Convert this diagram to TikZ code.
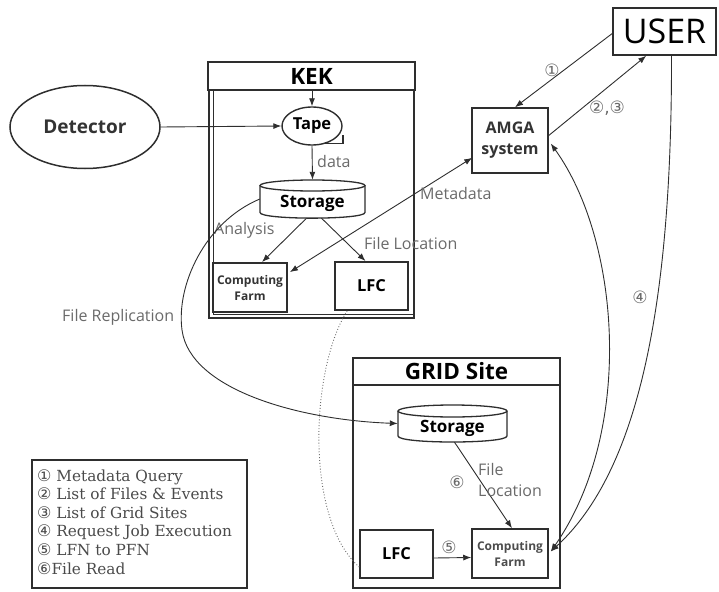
\documentclass[tikz,border=0pt]{standalone}
\usepackage{fontspec}
\setmainfont{Open Sans}
\newfontfamily\circfont{DejaVu Sans}
\newfontfamily\legfont{DejaVu Serif}
\usetikzlibrary{arrows.meta,shapes.geometric,calc}
\newcommand{\setfs}[1]{\fontsize{#1}{#1}\selectfont}
\newcommand{\cn}[1]{{\circfont\fontsize{16}{18.6}\selectfont #1}}
\definecolor{linec}{HTML}{2E2E2E}
\definecolor{lblc}{HTML}{6A6A6A}
\definecolor{legc}{HTML}{4A4A4A}
\tikzset{
  box/.style={draw=linec, line width=1.5pt, inner sep=0pt, align=center},
  ghost/.style={inner sep=0pt, align=center},
  lbl/.style={text=lblc, font=\setfs{16}, inner sep=0pt},
  circlbl/.style={text=lblc, font=\circfont\setfs{17}, inner sep=0pt},
  arr/.style={draw=linec, line width=0.9pt, -{Latex[length=8pt,width=6pt]}},
  darr/.style={draw=linec, line width=0.9pt, {Latex[length=8pt,width=6pt]}-{Latex[length=8pt,width=6pt]}},
  cyl/.style={draw=linec, line width=1.3pt},
}
\begin{document}
\begin{tikzpicture}[x=1pt,y=-1pt]
\useasboundingbox (0,0) rectangle (719,591);

% ---------- Detector ----------
\node[ellipse, draw=linec, line width=1.5pt, minimum width=150pt, minimum height=83pt, inner sep=0pt,
      font=\setfs{19}\bfseries, text=black!80] (det) at (85,127) {Detector};

% ---------- KEK ----------
\node[box, minimum width=207pt, minimum height=28pt, font=\setfs{22.5}\bfseries] (kektitle) at (311.5,76) {KEK};
\node[box, minimum width=205pt, minimum height=228pt] (kekbody) at (311.5,204) {};
\draw[linec, line width=1.2pt] (213.5,90) -- (213.5,314.5) -- (414,314.5);

% Tape
\node[ellipse, draw=linec, line width=1.4pt, minimum width=60pt, minimum height=38pt, inner sep=0pt,
      font=\setfs{16.5}\bfseries] (tape) at (312,126) {Tape};
\draw[linec, line width=1.4pt] (322,143.5) -- (343,143.5) -- (343,135);
\coordinate (ktop) at (312,90);
\draw[arr] (ktop) -- (tape.north);
\draw[arr] (det.east) -- (tape.west);

% KEK Storage
\node[ghost, minimum width=105pt, minimum height=38pt] (kstore) at (312.5,199) {};
\draw[cyl, fill=white] (260,185.5) -- (260,212.5) .. controls (260,220) and (365,220) .. (365,212.5) -- (365,185.5);
\draw[cyl] (312.5,185.5) ellipse [x radius=52.5, y radius=5.5];
\node[font=\setfs{17}\bfseries, inner sep=0pt] at (312.5,203) {Storage};
\draw[arr] (tape.south) -- (kstore.north);
\node[lbl, anchor=west] at (317,161) {data};

% KEK Computing Farm and LFC
\node[box, line width=1.8pt, minimum width=74pt, minimum height=49pt, font=\fontsize{12}{16}\selectfont\bfseries, text=black!80] (kcf) at (250,287.5) {Computing\\Farm};
\node[box, line width=1.8pt, minimum width=73pt, minimum height=48pt, font=\setfs{16.5}\bfseries] (klfc) at (371.5,286) {LFC};
\draw[arr] ($(kstore.south)+(-6,0)$) -- ($(kcf.north)+(12,0)$);
\draw[arr] ($(kstore.south)+(9,0)$) -- ($(klfc.north)+(-6,0)$);
\node[lbl, anchor=west] at (214,230) {Analysis};
\node[lbl, anchor=west] at (364,243) {File Location};

% ---------- USER and AMGA ----------
\node[box, minimum width=103pt, minimum height=47pt, font=\setfs{34}] (user) at (664.5,31.5) {USER};
\node[box, minimum width=76pt, minimum height=65pt, font=\fontsize{16}{21}\selectfont\bfseries, text=black!80] (amga) at (510,140.5) {AMGA\\system};

\draw[arr] ($(user.west)+(0,2)$) -- ($(amga.north)+(5,0)$);
\node[circlbl] at (552,70) {①};
\draw[arr] ($(amga.east)+(0,-5)$) -- ($(user.south west)+(34,0)$);
\node[circlbl] at (607,108) {②,③};

\draw[darr] ($(kcf.north east)+(2,10)$) -- ($(amga.south west)+(1,-16)$);
\node[lbl, anchor=west] at (420,193) {Metadata};

% ---------- GRID Site ----------
\node[box, minimum width=207pt, minimum height=27pt, font=\setfs{22.5}\bfseries] (gridtitle) at (456.5,371.5) {GRID Site};
\node[box, minimum width=207pt, minimum height=203pt] (gridbody) at (456.5,486.5) {};

% GRID Storage
\node[ghost, minimum width=109pt, minimum height=37pt] (gstore) at (452.5,423.5) {};
\draw[cyl, fill=white] (398,411) -- (398,436) .. controls (398,444) and (507,444) .. (507,436) -- (507,411);
\draw[cyl] (452.5,411) ellipse [x radius=54.5, y radius=6];
\node[font=\setfs{17}\bfseries, inner sep=0pt] at (452.5,428) {Storage};

\node[box, minimum width=76pt, minimum height=49pt, font=\fontsize{12}{16}\selectfont\bfseries, text=black!70] (gcf) at (510,553.5) {Computing\\Farm};
\node[box, minimum width=73pt, minimum height=48pt, font=\setfs{16.5}\bfseries] (glfc) at (396.5,554) {LFC};

\draw[arr] ($(gstore.south)+(2,0)$) -- ($(gcf.north)+(2,0)$);
\node[lbl, anchor=west, align=left, font=\fontsize{16}{21}\selectfont] at (478,480) {File\\Location};
\node[circlbl] at (457,482) {⑥};
\draw[arr] ($(glfc.east)+(0,4)$) -- ($(gcf.west)+(0,4)$);
\node[circlbl] at (449,547) {⑤};

% ---------- long connectors ----------
\draw[arr] (kstore.west) .. controls (205,222) and (176,285) .. (182,330)
           .. controls (190,390) and (300,420) .. (gstore.west);
\node[lbl, anchor=west] at (62,317) {File Replication};

\draw[darr] ($(amga.east)+(2,3)$) .. controls (620,240) and (635,430) .. ($(gcf.east)+(2,-2)$);
\coordinate (ubot) at ($(user.south)+(7,0)$);
\draw[arr] (ubot) .. controls (672,300) and (640,470) .. ($(gcf.east)+(2,-2)$);
\node[circlbl] at (640,297) {④};

\draw[lblc, line width=0.9pt, dotted] ($(klfc.south west)+(13,0)$) .. controls (310,370) and (305,520) .. ($(glfc.west)+(0,13)$);

% ---------- legend ----------
\node[draw=linec, line width=1.5pt, minimum width=215pt, minimum height=128pt, inner sep=0pt] (legend) at (139.5,524) {};
\node[anchor=north west, align=left, inner sep=0pt, text=legc, font=\legfont\fontsize{15.3}{18.6}\selectfont] (legtext) at (37,469)
 {\cn{①} Metadata Query\\
  \cn{②} List of Files \& Events\\
  \cn{③} List of Grid Sites\\
  \cn{④} Request Job Execution\\
  \cn{⑤} LFN to PFN\\
  \cn{⑥}File Read};
\end{tikzpicture}
\end{document}
